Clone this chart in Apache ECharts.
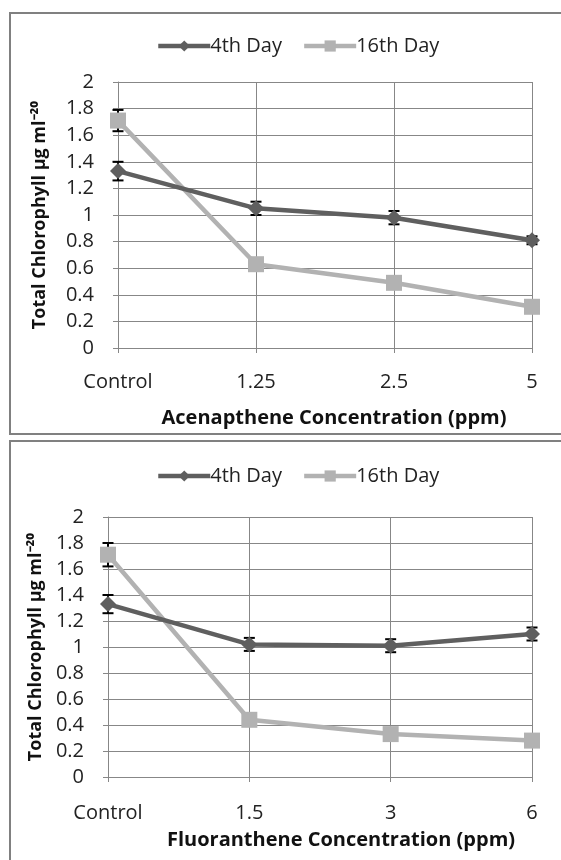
<!DOCTYPE html>
<html><head><meta charset="utf-8">
<script src="https://cdn.jsdelivr.net/npm/echarts@6/dist/echarts.min.js"></script>
<style>html,body{margin:0;padding:0;background:#fff}#c{width:561px;height:860px}</style>
</head><body><div id="c"></div>
<script>
const categoriesA = ['Control', '1.25', '2.5', '5'];
const day4A = [1.33, 1.05, 0.98, 0.81];
const day4ErrA = [0.07, 0.05, 0.05, 0.03];
const day16A = [1.71, 0.63, 0.49, 0.31];
const day16ErrA = [0.08, 0.02, 0.02, 0.02];

const categoriesF = ['Control', '1.5', '3', '6'];
const day4F = [1.33, 1.02, 1.01, 1.10];
const day4ErrF = [0.07, 0.05, 0.05, 0.05];
const day16F = [1.71, 0.44, 0.33, 0.28];
const day16ErrF = [0.09, 0.02, 0.02, 0.02];

const seriesNames = ['4th Day', '16th Day'];
const xTitles = ['Acenapthene Concentration (ppm)', 'Fluoranthene Concentration (ppm)'];
const yTitle = 'Total Chlorophyll µg ml⁻²⁰';

const C4 = '#5f5f5f', C16 = '#b2b2b2', GRID = '#878787';
const FONT = 'Open Sans';

function errData(vals, errs) { return vals.map((v, i) => [i, v - errs[i], v + errs[i]]); }
function errRender(params, api) {
  const lo = api.coord([api.value(0), api.value(1)]);
  const hi = api.coord([api.value(0), api.value(2)]);
  const w = 5.5;
  const st = { stroke: '#000', lineWidth: 2 };
  return { type: 'group', children: [
    { type: 'line', shape: { x1: lo[0], y1: lo[1], x2: hi[0], y2: hi[1] }, style: st },
    { type: 'line', shape: { x1: lo[0] - w, y1: lo[1], x2: lo[0] + w, y2: lo[1] }, style: st },
    { type: 'line', shape: { x1: hi[0] - w, y1: hi[1], x2: hi[0] + w, y2: hi[1] }, style: st }
  ]};
}

function xAxisCfg(idx, cats, name, pad, gap, margin) {
  return {
    type: 'category', gridIndex: idx, data: cats, boundaryGap: false,
    axisLine: { lineStyle: { color: GRID, width: 1 } },
    axisTick: { show: true, length: 5, lineStyle: { color: GRID } },
    splitLine: { show: true, lineStyle: { color: GRID, width: 1 } },
    axisLabel: { margin: margin, fontSize: 20, color: '#222', fontFamily: FONT },
    name: name, nameLocation: 'middle', nameGap: gap,
    nameTextStyle: { fontSize: 20, fontWeight: 'bold', color: '#111', fontFamily: FONT, padding: [0, 0, 0, pad] }
  };
}
function yAxisCfg(idx, gap) {
  return {
    type: 'value', gridIndex: idx, min: 0, max: 2, interval: 0.2,
    axisLine: { show: true, lineStyle: { color: GRID, width: 1 } },
    axisTick: { show: true, length: 5, lineStyle: { color: GRID } },
    splitLine: { show: true, lineStyle: { color: GRID, width: 1 } },
    axisLabel: { margin: 24, fontSize: 20, color: '#222', fontFamily: FONT },
    name: yTitle, nameLocation: 'middle', nameGap: gap, nameRotate: 90,
    nameTextStyle: { fontSize: 18, fontWeight: 'bold', color: '#111', fontFamily: FONT }
  };
}
function lineSeries(name, idx, data, color, symbol, size) {
  return {
    name: name, type: 'line', xAxisIndex: idx, yAxisIndex: idx, data: data,
    symbol: symbol, symbolSize: size, showAllSymbol: true,
    lineStyle: { color: color, width: 4.5 }, itemStyle: { color: color },
    z: 3, animation: false
  };
}
function errSeries(idx, vals, errs) {
  return {
    type: 'custom', xAxisIndex: idx, yAxisIndex: idx, data: errData(vals, errs),
    renderItem: errRender, z: 2, animation: false, silent: true
  };
}
function legendCfg(top) {
  return {
    top: top, left: 151, itemWidth: 52, itemHeight: 14, itemGap: 20,
    data: seriesNames,
    lineStyle: { width: 4.5 },
    textStyle: { fontSize: 20, color: '#222', fontFamily: FONT, padding: [0, 0, 0, -5] }
  };
}

const chart = echarts.init(document.getElementById('c'), null, { renderer: 'canvas' });
chart.setOption({
  animation: false,
  graphic: [
    { type: 'rect', shape: { x: 10, y: 13, width: 560, height: 421 }, style: { fill: 'none', stroke: '#808080', lineWidth: 2 }, z: 0 },
    { type: 'rect', shape: { x: 10, y: 441, width: 560, height: 430 }, style: { fill: 'none', stroke: '#808080', lineWidth: 2 }, z: 0 }
  ],
  legend: [legendCfg(31), legendCfg(461)],
  grid: [
    { left: 118, top: 82, width: 414, height: 266 },
    { left: 108, top: 517, width: 424, height: 260 }
  ],
  xAxis: [xAxisCfg(0, categoriesA, xTitles[0], 18, 60, 24), xAxisCfg(1, categoriesF, xTitles[1], 42, 53, 26)],
  yAxis: [yAxisCfg(0, 69), yAxisCfg(1, 59)],
  series: [
    errSeries(0, day4A, day4ErrA),
    errSeries(0, day16A, day16ErrA),
    lineSeries(seriesNames[1], 0, day16A, C16, 'rect', 16),
    lineSeries(seriesNames[0], 0, day4A, C4, 'diamond', 16),
    errSeries(1, day4F, day4ErrF),
    errSeries(1, day16F, day16ErrF),
    lineSeries(seriesNames[1], 1, day16F, C16, 'rect', 16),
    lineSeries(seriesNames[0], 1, day4F, C4, 'diamond', 16)
  ]
});
</script></body></html>
